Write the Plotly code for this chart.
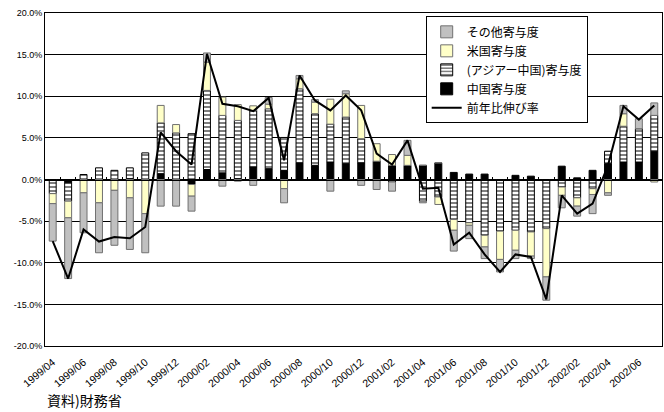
import plotly.graph_objects as go

# Monthly export growth and contributions by region (%)
months = [
    "1999/04", "1999/05", "1999/06", "1999/07", "1999/08", "1999/09", "1999/10", "1999/11", "1999/12",
    "2000/01", "2000/02", "2000/03", "2000/04", "2000/05", "2000/06", "2000/07", "2000/08", "2000/09",
    "2000/10", "2000/11", "2000/12", "2001/01", "2001/02", "2001/03", "2001/04", "2001/05", "2001/06",
    "2001/07", "2001/08", "2001/09", "2001/10", "2001/11", "2001/12", "2002/01", "2002/02", "2002/03",
    "2002/04", "2002/05", "2002/06", "2002/07",
]

china = [0, -0.4, 0, 0, 0, 0.1, 0, 0.7, 0, -0.6, 1.2, 0.8, 0.1, 1.5, 1.3, 1.1, 2.0, 1.7, 2.1, 1.9,
         2.0, 2.2, 1.7, 1.7, 1.7, 2.0, 0.85, 0.65, 0.65, 0, 0.5, 0.4, 0, 1.6, 0.2, 1.1, 1.9, 2.1, 2.1, 3.4]

asia_ex_china = [-1.7, -2.2, 0.6, 1.4, 1.1, 1.3, 3.2, 6.1, 5.6, 5.5, 9.5, 6.9, 7.0, 6.8, 7.2, 3.95, 8.9,
                 6.2, 4.55, 5.6, 2.9, 0, -0.3, 0, -2.6, -2.1, -4.8, -5.2, -6.7, -6.2, -6.1, -6.3, -5.9,
                 -0.9, -2.2, -1.1, 1.5, 4.3, 4.0, 4.3]

usa = [-1.2, -2.0, -1.6, -2.8, -1.3, -2.2, -4.1, 2.1, 1.0, -1.4, 3.4, 2.2, 1.9, 0.55, 0.55, -1.1, 1.2,
       1.4, 3.0, 2.8, 4.0, 2.1, 1.3, 1.2, 0, -0.9, -1.3, -0.3, -1.4, -3.4, -2.4, -2.9, -5.8, -1.0, -1.0,
       -0.7, -1.6, 1.5, 0, -0.3]

other = [-4.5, -7.3, -4.8, -6.0, -6.6, -6.2, -4.7, -3.2, -3.2, -1.8, 1.1, -0.8, -0.2, -0.7, 0.8, -1.7,
         0.4, 0.3, -1.4, 0.35, -0.7, -1.2, -1.1, 1.8, -0.2, 0, -2.5, -1.6, -1.4, -1.5, -1.0, -0.3, -2.8,
         -1.5, -1.2, -2.3, -0.3, 1.0, 1.2, 1.5]

growth = [-7.4, -11.9, -6.0, -7.45, -6.9, -7.05, -5.7, 5.65, 3.4, 1.8, 15.1, 9.1, 8.8, 8.2, 9.8, 2.3,
          12.5, 9.5, 8.3, 10.1, 8.3, 3.1, 1.8, 4.7, -1.1, -1.0, -7.8, -6.4, -9.0, -11.1, -9.0, -9.3,
          -14.4, -1.9, -4.1, -2.9, 1.7, 8.8, 7.2, 8.9]

y_ticks = [20, 15, 10, 5, 0, -5, -10, -15, -20]
y_tick_labels = ["20.0%", "15.0%", "10.0%", "5.0%", "0.0%", "-5.0%", "-10.0%", "-15.0%", "-20.0%"]
x_tick_labels = months[::2]

fig = go.Figure()

fig.add_trace(go.Bar(
    x=months, y=china, name="中国寄与度", legendrank=4,
    marker=dict(color="#000000", line=dict(color="#000000", width=1)),
))
fig.add_trace(go.Bar(
    x=months, y=asia_ex_china, name="(アジアー中国)寄与度", legendrank=3,
    marker=dict(color="#FFFFFF", line=dict(color="#000000", width=1),
                pattern=dict(shape="-", fgcolor="#000000", bgcolor="#FFFFFF", size=4, solidity=0.5)),
))
fig.add_trace(go.Bar(
    x=months, y=usa, name="米国寄与度", legendrank=2,
    marker=dict(color="#FFFFC8", line=dict(color="#707070", width=1)),
))
fig.add_trace(go.Bar(
    x=months, y=other, name="その他寄与度", legendrank=1,
    marker=dict(color="#C0C0C0", line=dict(color="#707070", width=1)),
))
fig.add_trace(go.Scatter(
    x=months, y=growth, name="前年比伸び率", legendrank=5, mode="lines",
    line=dict(color="#000000", width=2), xaxis="x2",
))

fig.update_layout(
    width=664, height=412,
    margin=dict(l=45, r=2, t=13, b=66),
    paper_bgcolor="#FFFFFF", plot_bgcolor="#FFFFFF",
    barmode="relative", bargap=0.55,
    font=dict(family="Liberation Sans, Arial, sans-serif", color="#000000", size=9),
    showlegend=True,
    legend=dict(
        x=0.617, y=0.99, xanchor="left", yanchor="top",
        bgcolor="#FFFFFF", bordercolor="#000000", borderwidth=1,
        traceorder="normal", tracegroupgap=0,
        font=dict(family="Noto Sans CJK JP", size=12, color="#000000"),
    ),
    xaxis=dict(
        type="category", categoryorder="array", categoryarray=months,
        range=[-0.5, len(months) - 0.5],
        tickmode="array", tickvals=x_tick_labels, ticktext=x_tick_labels,
        tickangle=-40, ticks="", showgrid=False, ticklabelstandoff=5,
        showline=True, linecolor="#000000", linewidth=1, mirror=True,
        tickfont=dict(family="Liberation Sans, Arial, sans-serif", size=10.5),
    ),
    xaxis2=dict(
        type="category", categoryorder="array", categoryarray=months,
        range=[-0.5, len(months) - 0.5],
        overlaying="x", anchor="free", position=0.5,
        showline=True, linecolor="#000000", linewidth=1,
        ticks="inside", tickson="boundaries", ticklen=3, tickcolor="#000000",
        tickmode="linear", dtick=1,
        showticklabels=False, showgrid=False,
    ),
    yaxis=dict(
        range=[-20, 20], tickmode="array", tickvals=y_ticks, ticktext=y_tick_labels,
        showgrid=True, gridcolor="#000000", gridwidth=1,
        zeroline=False,
        showline=True, linecolor="#000000", linewidth=1, mirror=True,
        ticks="", tickfont=dict(family="Liberation Sans, Arial, sans-serif", size=9),
    ),
    annotations=[dict(
        text="資料)財務省", xref="paper", yref="paper",
        x=0.0, y=-0.163, xanchor="left", yanchor="middle", showarrow=False,
        font=dict(family="Noto Sans CJK JP", size=14, color="#000000"),
    )],
)

fig.write_html("out.html")
